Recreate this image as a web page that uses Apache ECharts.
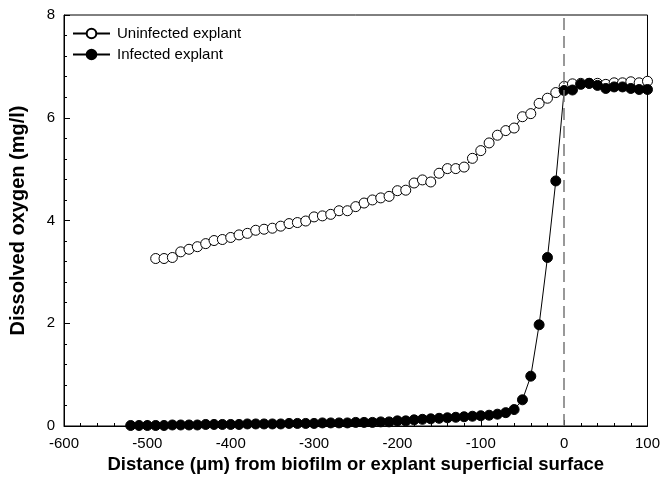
<!DOCTYPE html>
<html><head><meta charset="utf-8">
<script src="https://cdn.jsdelivr.net/npm/echarts@6/dist/echarts.min.js"></script>
<style>html,body{margin:0;padding:0;background:#fff}#c{width:663px;height:490px}</style>
</head><body><div id="c"></div>
<script>
const uninfX = [-490,-480,-470,-460,-450,-440,-430,-420,-410,-400,-390,-380,-370,-360,-350,-340,-330,-320,-310,-300,-290,-280,-270,-260,-250,-240,-230,-220,-210,-200,-190,-180,-170,-160,-150,-140,-130,-120,-110,-100,-90,-80,-70,-60,-50,-40,-30,-20,-10,0,10,20,30,40,50,60,70,80,90,100];
const uninfY = [3.26,3.26,3.28,3.39,3.44,3.49,3.55,3.61,3.63,3.67,3.72,3.75,3.81,3.83,3.85,3.89,3.94,3.96,3.99,4.07,4.09,4.12,4.19,4.19,4.27,4.34,4.40,4.44,4.47,4.58,4.59,4.73,4.79,4.75,4.92,5.01,5.01,5.04,5.21,5.36,5.51,5.66,5.75,5.80,6.02,6.08,6.28,6.38,6.49,6.61,6.66,6.67,6.67,6.67,6.65,6.68,6.68,6.70,6.68,6.71];
const infX = [-520,-510,-500,-490,-480,-470,-460,-450,-440,-430,-420,-410,-400,-390,-380,-370,-360,-350,-340,-330,-320,-310,-300,-290,-280,-270,-260,-250,-240,-230,-220,-210,-200,-190,-180,-170,-160,-150,-140,-130,-120,-110,-100,-90,-80,-70,-60,-50,-40,-30,-20,-10,0,10,20,30,40,50,60,70,80,90,100];
const infY = [0.01,0.01,0.01,0.01,0.01,0.02,0.02,0.02,0.02,0.03,0.03,0.03,0.03,0.03,0.04,0.04,0.04,0.04,0.04,0.05,0.05,0.05,0.05,0.06,0.06,0.06,0.06,0.07,0.07,0.07,0.08,0.08,0.10,0.10,0.12,0.13,0.14,0.15,0.16,0.17,0.18,0.19,0.20,0.21,0.23,0.26,0.32,0.51,0.97,1.97,3.28,4.77,6.53,6.54,6.65,6.67,6.63,6.57,6.60,6.60,6.57,6.55,6.55];
const xTicks = [-600,-500,-400,-300,-200,-100,0,100];
const yTicks = [0,2,4,6,8];
const seriesNames = ['Uninfected explant','Infected explant'];
const xTitle = 'Distance (\u03bcm) from biofilm or explant superficial surface';
const yTitle = 'Dissolved oxygen (mg/l)';

const F = '"Liberation Sans", Arial, sans-serif';
const chart = echarts.init(document.getElementById('c'), null, {renderer:'canvas'});
const zip = (a,b)=>a.map((v,i)=>[v,b[i]]);
chart.setOption({
  animation:false,
  grid:{left:61,right:15,top:15,bottom:64,show:true,borderColor:'#000',borderWidth:1,backgroundColor:'transparent'},
  legend:{
    orient:'vertical',left:67,top:21,itemWidth:37,itemHeight:12,itemGap:6,
    textStyle:{fontFamily:F,fontSize:15,color:'#000',padding:[0,0,0,2]},
    data:seriesNames
  },
  xAxis:{
    type:'value',min:xTicks[0],max:xTicks[xTicks.length-1],interval:100,
    axisLine:{onZero:false,lineStyle:{color:'#000',width:1}},
    axisTick:{inside:true,length:6,lineStyle:{color:'#000'}},
    minorTick:{show:true,splitNumber:5,length:3,lineStyle:{color:'#000'}},
    splitLine:{show:false},
    axisLabel:{fontFamily:F,fontSize:15,color:'#000',margin:10},
    name:xTitle,nameLocation:'middle',nameGap:27,
    nameTextStyle:{fontFamily:F,fontSize:18.5,fontWeight:'bold',color:'#000'}
  },
  yAxis:{
    type:'value',min:yTicks[0],max:yTicks[yTicks.length-1],interval:2,
    axisLine:{show:true,onZero:false,lineStyle:{color:'#000',width:1}},
    axisTick:{inside:true,length:6,lineStyle:{color:'#000'}},
    minorTick:{show:true,splitNumber:5,length:3,lineStyle:{color:'#000'}},
    splitLine:{show:false},
    axisLabel:{fontFamily:F,fontSize:15,color:'#000',margin:9},
    name:yTitle,nameLocation:'middle',nameGap:36,
    nameTextStyle:{fontFamily:F,fontSize:20,fontWeight:'bold',color:'#000'}
  },
  series:[
    {name:seriesNames[0],type:'line',data:zip(uninfX,uninfY),symbol:'circle',symbolSize:10,
     lineStyle:{color:'#000',width:1},itemStyle:{color:'#fff',borderColor:'#000',borderWidth:1},
     markLine:{silent:true,symbol:'none',label:{show:false},
       lineStyle:{color:'#777',type:[12,6],width:1.5},data:[{xAxis:0}]}},
    {name:seriesNames[1],type:'line',data:zip(infX,infY),symbol:'circle',symbolSize:10,
     lineStyle:{color:'#000',width:1},itemStyle:{color:'#000',borderColor:'#000',borderWidth:1}}
  ]
});
</script></body></html>
